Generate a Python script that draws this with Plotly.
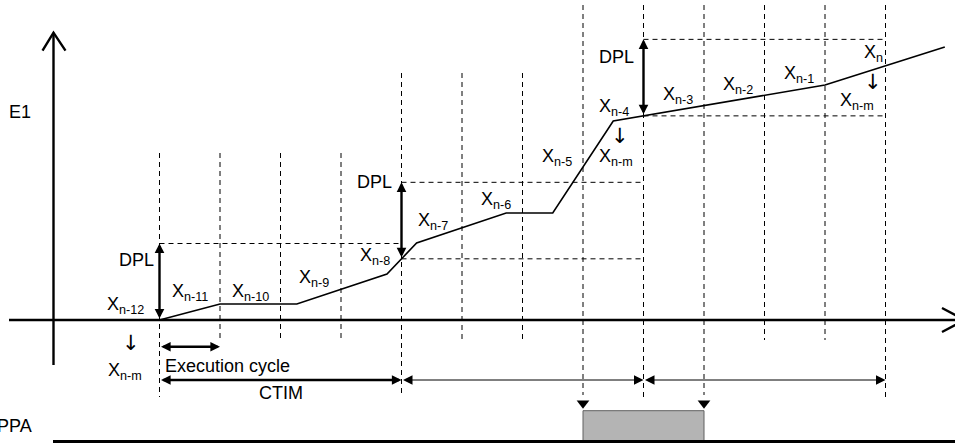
import plotly.graph_objects as go
import numpy as np

# ---------------- data (cycle units on x, E1 units on y) ----------------
cycles = list(range(13))                      # execution-cycle boundaries
vline_top = [167, 167, 167, 167, 247, 247, 247, 315, 315, 315, 315, 315, 315]
vline_bottom = [-77, -20, -20, -20, -77, -20, -20, -75, -77, -75, -20, -20, -77]

curve_t = [0, 1, 2.27, 3.76, 4.25, 5.73, 6.5, 7.5, 11, 12.98]
curve_e1 = [0, 16, 16, 46, 77, 107, 107, 199, 235, 273]

dpl_cycles = [0, 4, 8]
DPL = 76.5
ctim_cycles = [0, 4, 8, 12]
exec_cycle = [0, 1]
ppa_on, ppa_off = 7, 9

point_labels = ["X<sub>n-12</sub>", "X<sub>n-11</sub>", "X<sub>n-10</sub>", "X<sub>n-9</sub>",
                "X<sub>n-8</sub>", "X<sub>n-7</sub>", "X<sub>n-6</sub>", "X<sub>n-5</sub>",
                "X<sub>n-4</sub>", "X<sub>n-3</sub>", "X<sub>n-2</sub>", "X<sub>n-1</sub>",
                "X<sub>n</sub>"]
ref_label = "X<sub>n-m</sub>"

# ---------------- layout helpers (pixel -> axis units, for text placement) ----------------
PX0, PXS, PY0 = 159.5, 60.5, 320.0
def cx(px):
    return (px - PX0) / PXS
def ey(py):
    return PY0 - py

FONT = "Liberation Sans, Arial, sans-serif"
ARROW_FONT = "DejaVu Sans ExtraLight, DejaVu Sans, sans-serif"
FS = 18

fig = go.Figure()

# dashed vertical cycle lines
vx, vy = [], []
for c, t, b in zip(cycles, vline_top, vline_bottom):
    vx += [c, c, None]
    vy += [t, b, None]
fig.add_trace(go.Scatter(x=vx, y=vy, mode="lines",
                         line=dict(color="black", width=1, dash="5px,4px"), hoverinfo="skip"))

# dashed horizontal DPL band lines
dpl_base = np.interp(dpl_cycles, curve_t, curve_e1)
hx, hy = [], []
for c, b in zip(dpl_cycles, dpl_base):
    for lvl in (b, b + DPL):
        hx += [c, c + 4, None]
        hy += [lvl, lvl, None]
fig.add_trace(go.Scatter(x=hx, y=hy, mode="lines",
                         line=dict(color="black", width=1, dash="5px,4px"), hoverinfo="skip"))

# the E1 curve
fig.add_trace(go.Scatter(x=curve_t, y=curve_e1, mode="lines",
                         line=dict(color="black", width=1.6), hoverinfo="skip"))

# axes with open arrowheads
y_ax_x = cx(53.5)
y_lo, y_hi = ey(365), ey(32.7)
x_lo, x_hi = cx(9), cx(965)
ax_x = [y_ax_x, y_ax_x, None, y_ax_x - 11 / PXS, y_ax_x, y_ax_x + 12 / PXS, None,
        x_lo, x_hi, None, x_hi - 23 / PXS, x_hi, x_hi - 23 / PXS]
ax_y = [y_lo, y_hi, None, y_hi - 18, y_hi, y_hi - 18, None,
        0, 0, None, 12, 0, -12]
fig.add_trace(go.Scatter(x=ax_x, y=ax_y, mode="lines",
                         line=dict(color="black", width=2.4), hoverinfo="skip"))

# PPA signal
ppa_low, ppa_high = ey(441.5), ey(410.7)
fig.add_shape(type="rect", x0=ppa_on, x1=ppa_off, y0=ppa_low, y1=ppa_high,
              fillcolor="#b4b4b4", line=dict(color="#606060", width=1), layer="below")
fig.add_trace(go.Scatter(x=[cx(53), cx(960)], y=[ppa_low, ppa_low], mode="lines",
                         line=dict(color="black", width=3), hoverinfo="skip"))
fig.add_trace(go.Scatter(x=[ppa_on, ppa_off], y=[ppa_high + 7.5, ppa_high + 7.5], mode="markers",
                         marker=dict(symbol="triangle-down", size=11, color="black"),
                         hoverinfo="skip"))

annotations = []

def arrow(x0, y0, x1, y1, width, size):
    return dict(x=x1, y=y1, ax=x0, ay=y0, xref="x", yref="y", axref="x", ayref="y",
                text="", showarrow=True, arrowhead=2, startarrowhead=2,
                arrowside="end+start", arrowwidth=width, arrowsize=size,
                startarrowsize=size, arrowcolor="black", standoff=0, startstandoff=0)

# DPL double arrows
for c, b in zip(dpl_cycles, dpl_base):
    annotations.append(arrow(c, b, c, b + DPL, 2.4, 0.8))

# execution cycle arrow
annotations.append(arrow(exec_cycle[0], ey(346.7), exec_cycle[1], ey(346.7), 2.4, 0.8))
# CTIM arrows
for i in range(len(ctim_cycles) - 1):
    w, s = (2.4, 0.8) if i == 0 else (1, 1.9)
    annotations.append(arrow(ctim_cycles[i], ey(380), ctim_cycles[i + 1], ey(380), w, s))

def text(s, px, py, xanchor="left", size=FS, family=FONT):
    return dict(x=cx(px), y=ey(py), xref="x", yref="y", text=s, showarrow=False,
                xanchor=xanchor, yanchor="middle", borderpad=0,
                font=dict(family=family, size=size, color="black"))

# point labels (left x, cap-centre y in pixels)
label_pos = [(106, 303.8), (170.7, 290.5), (231, 290), (298, 276.5), (359.3, 254),
             (416.7, 219.5), (480, 198), (541, 155), (598.3, 105), (661.7, 93),
             (722.3, 83), (782.7, 72), (863.3, 51)]
SUBSHIFT = 2
for s, (px, py) in zip(point_labels, label_pos):
    annotations.append(text(s, px, py + SUBSHIFT))

# reference labels X_{n-m} with small arrows
for (ax_, ay_), (lx, ly) in [((130.7, 342.5), (106.7, 369)),
                             ((620, 136), (598.3, 155)),
                             ((873.3, 82), (839.3, 99))]:
    annotations.append(text("↓", ax_, ay_, xanchor="center", size=21, family=ARROW_FONT))
    annotations.append(text(ref_label, lx, ly + SUBSHIFT))

for px, py in [(118.3, 260), (356, 182), (598, 57)]:
    annotations.append(text("DPL", px, py))

annotations.append(text("E1", 8.3, 112))
annotations.append(text("Execution cycle", 164, 366))
annotations.append(text("CTIM", 257.7, 392.5))
annotations.append(text("PPA", 33.3, 425.7, xanchor="right"))

fig.update_layout(
    width=955, height=443,
    margin=dict(l=0, r=0, t=0, b=0),
    paper_bgcolor="white", plot_bgcolor="white",
    showlegend=False,
    xaxis=dict(range=[cx(0), cx(955)], visible=False, fixedrange=True),
    yaxis=dict(range=[ey(443), ey(0)], visible=False, fixedrange=True),
    annotations=annotations,
)

fig.write_html("out.html", config={"displayModeBar": False, "staticPlot": True},
               post_script="document.body.style.margin='0';")
